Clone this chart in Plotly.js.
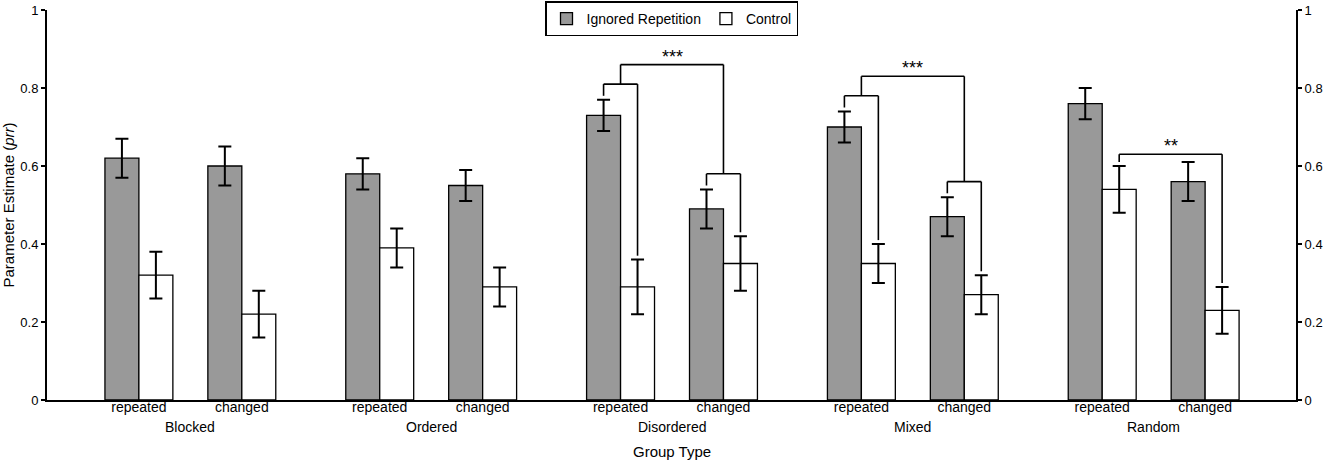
<!DOCTYPE html>
<html>
<head>
<meta charset="utf-8">
<script src="https://cdn.plot.ly/plotly-3.0.1.min.js"></script>
<style>
  html, body { margin: 0; padding: 0; background: #fff; }
  #chart { width: 1325px; height: 464px; }
</style>
</head>
<body>
<div id="chart"></div>
<script>
var groups = ["Blocked", "Ordered", "Disordered", "Mixed", "Random"]
var conditions = ["repeated", "changed"]

// values per group, in order [repeated, changed]
var ignoredMean = [0.62, 0.60, 0.58, 0.55, 0.73, 0.49, 0.70, 0.47, 0.76, 0.56]
var ignoredErr = [0.05, 0.05, 0.04, 0.04, 0.04, 0.05, 0.04, 0.05, 0.04, 0.05]
var controlMean = [0.32, 0.22, 0.39, 0.29, 0.29, 0.35, 0.35, 0.27, 0.54, 0.23]
var controlErr = [0.06, 0.06, 0.05, 0.05, 0.07, 0.07, 0.05, 0.05, 0.06, 0.06]

// significance: nested brackets (ignored vs control, then repeated vs changed)
var nestedSigGroups = ["Disordered", "Mixed"]
var nestedSigText = ["***", "***"]
// control repeated vs control changed
var controlSigGroups = ["Random"]
var controlSigText = ["**"]

var yTicks = [0, 0.2, 0.4, 0.6, 0.8, 1]
var yTickText = ["0", "0.2", "0.4", "0.6", "0.8", "1"]

var FONT = "Liberation Sans, Arial, sans-serif"
var GROUP_STEP = 2.34
var BAR_OFFSET = 0.165

function xPos(gi, ci) {
    return gi * GROUP_STEP + ci
}

var xs = [], xTickText = []
groups.forEach(function (g, gi) {
    conditions.forEach(function (c, ci) {
        xs.push(xPos(gi, ci))
        xTickText.push(c)
    })
})

function errTop(mean, err, i) {
    return mean[i] + err[i]
}

var shapes = []
var annotations = []

function line(x0, y0, x1, y1) {
    shapes.push({
        type: "line", xref: "x", yref: "y",
        x0: x0, y0: y0, x1: x1, y1: y1,
        line: { color: "#000", width: 1.6 },
    })
}

function bracket(xa, ya, xb, yb, h) {
    line(xa, ya, xa, h)
    line(xa, h, xb, h)
    line(xb, h, xb, yb)
}

function stars(x, y, text) {
    annotations.push({
        x: x, y: y, xref: "x", yref: "y",
        text: text, showarrow: false,
        xanchor: "center", yanchor: "bottom",
        yshift: -4,
        font: { family: FONT, size: 18, color: "#000" },
    })
}

nestedSigGroups.forEach(function (g, k) {
    var gi = groups.indexOf(g)
    var inner = []
    conditions.forEach(function (c, ci) {
        var i = gi * 2 + ci
        var ta = errTop(ignoredMean, ignoredErr, i)
        var tb = errTop(controlMean, controlErr, i)
        var h = Math.max(ta, tb) + 0.04
        bracket(xPos(gi, ci) - BAR_OFFSET, ta + 0.01, xPos(gi, ci) + BAR_OFFSET, tb + 0.01, h)
        inner.push(h)
    })
    var outer = Math.max(inner[0], inner[1]) + 0.05
    bracket(xPos(gi, 0), inner[0], xPos(gi, 1), inner[1], outer)
    stars((xPos(gi, 0) + xPos(gi, 1)) / 2, outer, nestedSigText[k])
})

controlSigGroups.forEach(function (g, k) {
    var gi = groups.indexOf(g)
    var ta = errTop(controlMean, controlErr, gi * 2)
    var tb = errTop(controlMean, controlErr, gi * 2 + 1)
    var h = Math.max(ta, tb) + 0.03
    bracket(xPos(gi, 0) + BAR_OFFSET, ta + 0.01, xPos(gi, 1) + BAR_OFFSET, tb + 0.01, h)
    stars((xPos(gi, 0) + xPos(gi, 1)) / 2 + BAR_OFFSET, h, controlSigText[k])
})

groups.forEach(function (g, gi) {
    annotations.push({
        x: (xPos(gi, 0) + xPos(gi, 1)) / 2, y: -0.069,
        xref: "x", yref: "paper",
        text: g, showarrow: false,
        xanchor: "center", yanchor: "middle",
        font: { family: FONT, size: 14, color: "#000" },
    })
})

annotations.push({
    x: 0.5, y: -0.132, xref: "paper", yref: "paper",
    text: "Group Type", showarrow: false,
    xanchor: "center", yanchor: "middle",
    font: { family: FONT, size: 15, color: "#000" },
})

var errStyle = { type: "data", color: "#000", thickness: 2, width: 6.5 }

var traces = [{
    type: "bar",
    name: "Ignored Repetition",
    x: xs,
    y: ignoredMean,
    error_y: Object.assign({ array: ignoredErr }, errStyle),
    marker: { color: "#999999", line: { color: "#000", width: 1.3 } },
}, {
    type: "bar",
    name: "Control",
    x: xs,
    y: controlMean,
    error_y: Object.assign({ array: controlErr }, errStyle),
    marker: { color: "#ffffff", line: { color: "#000", width: 1.3 } },
}, {
    type: "scatter",
    x: [xs[0]],
    y: [0],
    yaxis: "y2",
    mode: "markers",
    marker: { opacity: 0 },
    showlegend: false,
    hoverinfo: "skip",
}]

var yAxisBase = {
    range: [0, 1],
    tickvals: yTicks,
    ticktext: yTickText,
    ticks: "outside",
    ticklen: 4,
    tickwidth: 1.5,
    tickcolor: "#000",
    showline: true,
    linecolor: "#000",
    linewidth: 2,
    showgrid: false,
    zeroline: false,
    fixedrange: true,
    tickfont: { family: FONT, size: 13, color: "#000" },
}

Plotly.newPlot(
    document.getElementById("chart"),
    traces,
    {
        width: 1325,
        height: 464,
        margin: { t: 9.5, l: 47, r: 29, b: 64, autoexpand: false },
        paper_bgcolor: "#fff",
        plot_bgcolor: "#fff",
        barmode: "group",
        bargap: 0.34,
        bargroupgap: 0,
        showlegend: true,
        legend: {
            orientation: "h",
            x: 0.5,
            y: 1.0218,
            xanchor: "center",
            yanchor: "top",
            bgcolor: "#fff",
            bordercolor: "#000",
            borderwidth: 1.5,
            itemwidth: 30,
            tracegroupgap: 0,
            font: { family: FONT, size: 14, color: "#000" },
        },
        xaxis: {
            range: [-0.893, 4 * GROUP_STEP + 1 + 0.883],
            tickvals: xs,
            ticktext: xTickText,
            ticks: "",
            ticklabelstandoff: -7,
            showline: true,
            linecolor: "#000",
            linewidth: 2,
            showgrid: false,
            zeroline: false,
            fixedrange: true,
            tickfont: { family: FONT, size: 14, color: "#000" },
        },
        yaxis: Object.assign({}, yAxisBase, {
            title: {
                text: "Parameter Estimate (<i>prr</i>)",
                standoff: 3,
                font: { family: FONT, size: 15, color: "#000" },
            },
        }),
        yaxis2: Object.assign({}, yAxisBase, {
            overlaying: "y",
            side: "right",
            anchor: "x",
        }),
        shapes: shapes,
        annotations: annotations,
    },
    { displayModeBar: false, staticPlot: true }
)
</script>
</body>
</html>
